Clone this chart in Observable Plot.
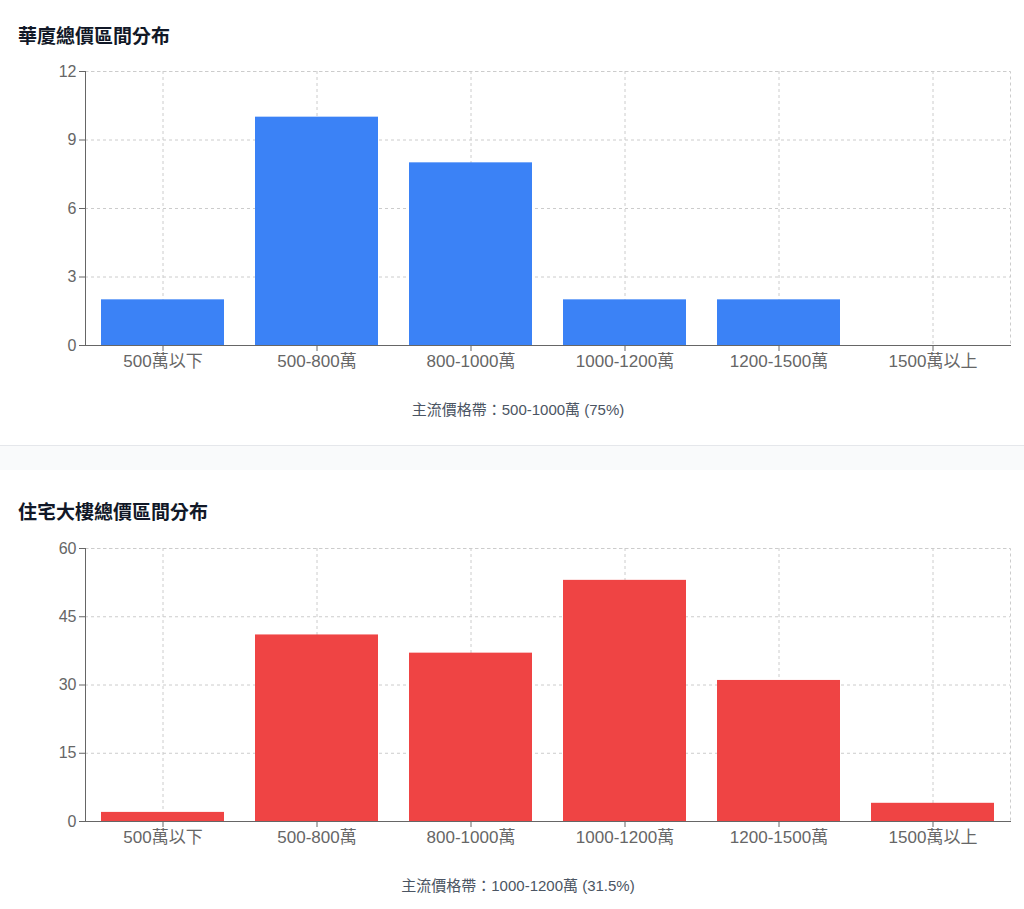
<!DOCTYPE html>
<html>
<head>
<meta charset="utf-8">
<script src="https://cdn.jsdelivr.net/npm/d3@7"></script>
<script src="https://cdn.jsdelivr.net/npm/@observablehq/plot@0.6"></script>
<style>
  html, body { margin: 0; padding: 0; background: #ffffff; }
  body { width: 1024px; height: 909px; position: relative; overflow: hidden;
         font-family: "Liberation Sans", "Noto Sans CJK TC", sans-serif; }
  .card1 { position: absolute; left: 0; top: 0; width: 1024px; height: 445px; background: #fff;
           border-bottom: 1px solid #e5e7eb; }
  .band { position: absolute; left: 0; top: 446px; width: 1024px; height: 24px; background: #f9fafb; }
  .card2 { position: absolute; left: 0; top: 470px; width: 1024px; height: 439px; background: #fff; }
  .title { position: absolute; left: 18px; font-size: 19px; font-weight: bold; color: #111827;
           line-height: 22px; font-family: "Noto Sans CJK TC", sans-serif; }
  .caption { position: absolute; left: 6px; width: 1024px; text-align: center; font-size: 15px;
             color: #4b5563; line-height: 18px; font-family: "Liberation Sans", "Noto Sans CJK TC", sans-serif; }
  .chart { position: absolute; left: 0; }
</style>
</head>
<body>
<div class="card1"></div>
<div class="band"></div>
<div class="card2"></div>
<div class="title" style="top:24px">華廈總價區間分布</div>
<div class="chart" id="c1" style="top:61px"></div>
<div class="caption" id="cap1" style="top:401px"></div>
<div class="title" style="top:500px">住宅大樓總價區間分布</div>
<div class="chart" id="c2" style="top:538px"></div>
<div class="caption" id="cap2" style="top:877px"></div>
<script>
const categories = ["500萬以下", "500-800萬", "800-1000萬", "1000-1200萬", "1200-1500萬", "1500萬以上"];
const condoCounts = [2, 10, 8, 2, 2, 0];
const towerCounts = [2, 41, 37, 53, 31, 4];
const condoTicks = [0, 3, 6, 9, 12];
const towerTicks = [0, 15, 30, 45, 60];
const condoCaption = "主流價格帶：500-1000萬 (75%)";
const towerCaption = "主流價格帶：1000-1200萬 (31.5%)";

function makeChart(counts, ticks, color, plotHeight) {
  const data = categories.map((c, i) => ({category: c, count: counts[i]}));
  return Plot.plot({
    width: 1024,
    height: 10 + plotHeight + 40,
    marginTop: 10,
    marginBottom: 40,
    marginLeft: 85,
    marginRight: 14,
    style: {fontSize: "16px", fontFamily: "'Liberation Sans', 'Noto Sans CJK TC', sans-serif", color: "#666", background: "transparent"},
    x: {domain: categories, paddingInner: 0.2, paddingOuter: 0.1, align: 0.5, label: null},
    y: {domain: [ticks[0], ticks[ticks.length - 1]], label: null},
    marks: [
      Plot.gridY(ticks, {stroke: "#ccc", strokeOpacity: 1, strokeDasharray: "3,3"}),
      Plot.gridX(categories, {stroke: "#ccc", strokeOpacity: 1, strokeDasharray: "3,3"}),
      Plot.frame({stroke: "#ccc", strokeOpacity: 1, strokeDasharray: "3,3"}),
      Plot.barY(data, {x: "category", y: "count", fill: color}),
      Plot.frame({anchor: "left", stroke: "#666"}),
      Plot.frame({anchor: "bottom", stroke: "#666"}),
      Plot.axisY(ticks, {tickSize: 6, tickPadding: 3, stroke: "#666", fill: "#666", label: null}),
      Plot.axisX({tickSize: 6, tickPadding: 3, fontSize: 17, stroke: "#666", fill: "#666", label: null})
    ]
  });
}

document.getElementById("c1").appendChild(makeChart(condoCounts, condoTicks, "#3b82f6", 274));
document.getElementById("c2").appendChild(makeChart(towerCounts, towerTicks, "#ef4444", 273));
document.getElementById("cap1").textContent = condoCaption;
document.getElementById("cap2").textContent = towerCaption;
</script>
</body>
</html>
